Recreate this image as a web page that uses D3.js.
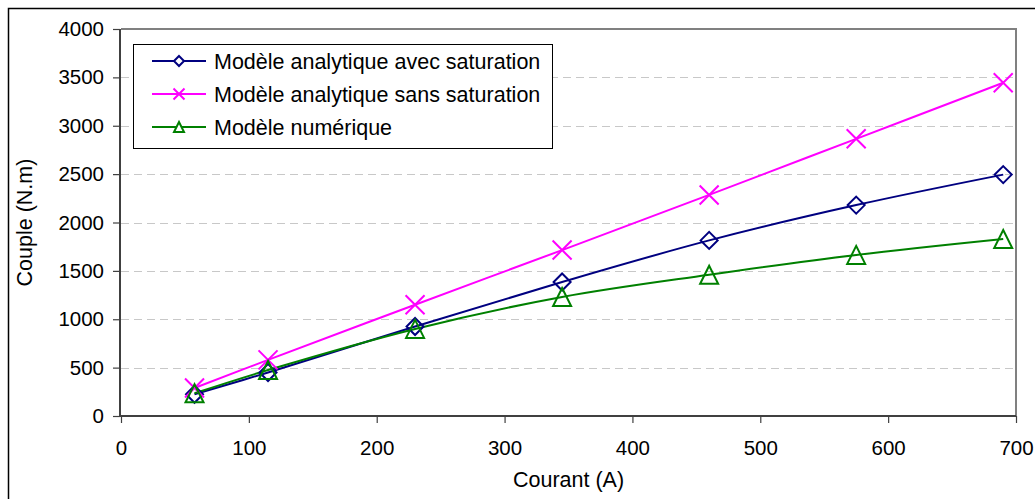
<!DOCTYPE html>
<html>
<head>
<meta charset="utf-8">
<script src="https://cdn.jsdelivr.net/npm/d3@7"></script>
<style>
html,body{margin:0;padding:0;background:#fff;}
svg{display:block;font-family:"Liberation Sans",Arial,sans-serif;}
</style>
</head>
<body>
<svg id="chart" width="1035" height="499"></svg>
<script>
// Data
const courant = [57.5, 115, 230, 345, 460, 575, 690];
const avecSaturation = [225, 450, 925, 1385, 1815, 2180, 2495];
const sansSaturation = [290, 580, 1150, 1715, 2285, 2865, 3445];
const numerique = [235, 475, 900, 1230, 1460, 1665, 1830];
const seriesNames = ["Modèle analytique avec saturation", "Modèle analytique sans saturation", "Modèle numérique"];
const xTicks = [0, 100, 200, 300, 400, 500, 600, 700];
const yTicks = [0, 500, 1000, 1500, 2000, 2500, 3000, 3500, 4000];

const svg = d3.select("#chart");
const W = 1035, H = 499;

// outer frame
svg.append("rect").attr("x", 8.5).attr("y", 8.5).attr("width", W + 20).attr("height", H + 20)
  .attr("fill", "none").attr("stroke", "#000").attr("stroke-width", 1.5);

const x = d3.scaleLinear().domain([0, 700]).range([121, 1016]);
const y = d3.scaleLinear().domain([0, 4000]).range([416, 29]);

// gridlines
svg.append("g").selectAll("line").data(yTicks.filter(t => t > 0 && t < 4000)).join("line")
  .attr("x1", 121).attr("x2", 1016)
  .attr("y1", d => Math.round(y(d)) + 0.5).attr("y2", d => Math.round(y(d)) + 0.5)
  .attr("stroke", "#c8c8c8").attr("stroke-width", 1).attr("stroke-dasharray", "8,5");

// plot border top/right
svg.append("path")
  .attr("d", `M${x(0)},${y(4000)}H${x(700)}V${y(0)}`)
  .attr("fill", "none").attr("stroke", "#808080").attr("stroke-width", 2);

// axes
const fmt = d3.format("d");
const xAxis = d3.axisBottom(x).tickValues(xTicks).tickFormat(fmt).tickSize(7).tickPadding(10);
const yAxis = d3.axisLeft(y).tickValues(yTicks).tickFormat(fmt).tickSize(7).tickPadding(10);

const gx = svg.append("g").attr("transform", `translate(0,${y(0)})`).call(xAxis);
const gy = svg.append("g").attr("transform", `translate(${x(0) - 1},0)`).call(yAxis);
[gx, gy].forEach(g => {
  g.select(".domain").attr("stroke", "#404040").attr("stroke-width", 2);
  g.selectAll(".tick line").attr("stroke", "#404040").attr("stroke-width", 1.2);
  g.selectAll(".tick text").attr("fill", "#000").style("font-size", "20.5px")
    .style("font-family", "'Liberation Sans', Arial, sans-serif");
});
gx.select(".domain").attr("d", `M${x(0) - 1},0H${x(700)}`);
gy.select(".domain").attr("d", `M0,${y(0)}V${y(4000)}`);
gx.selectAll(".tick text").attr("dy", null).attr("y", 39);
gy.selectAll(".tick text").attr("x", -16);

// axis titles
svg.append("text").attr("x", (x(0) + x(700)) / 2).attr("y", 487)
  .attr("text-anchor", "middle").style("font-size", "21.5px").text("Courant (A)");
svg.append("text").attr("transform", `translate(32,${(y(0) + y(4000)) / 2}) rotate(-90)`)
  .attr("text-anchor", "middle").style("font-size", "21.5px").text("Couple (N.m)");

// markers
function diamond(s) { return `M0,${-s}L${s},0L0,${s}L${-s},0Z`; }
function cross(s) { return `M${-s},${-s}L${s},${s}M${-s},${s}L${s},${-s}`; }
function tri(s) { return `M0,${-s}L${s},${s}L${-s},${s}Z`; }

const series = [
  { name: seriesNames[0], values: avecSaturation, color: "#000080", marker: diamond, size: 8.5, lsize: 5 },
  { name: seriesNames[1], values: sansSaturation, color: "#FF00FF", marker: cross, size: 9.5, lsize: 5.5 },
  { name: seriesNames[2], values: numerique, color: "#008000", marker: tri, size: 9, lsize: 5 }
];

const line = d3.line().x(d => x(d[0])).y(d => y(d[1])).curve(d3.curveCatmullRom.alpha(0.5));

series.forEach(s => {
  const pts = courant.map((c, i) => [c, s.values[i]]);
  svg.append("path").datum(pts).attr("d", line)
    .attr("fill", "none").attr("stroke", s.color).attr("stroke-width", 2);
});
series.forEach(s => {
  const pts = courant.map((c, i) => [c, s.values[i]]);
  svg.append("g").selectAll("path").data(pts).join("path")
    .attr("transform", d => `translate(${x(d[0])},${y(d[1])})`)
    .attr("d", s.marker(s.size))
    .attr("fill", "none").attr("stroke", s.color).attr("stroke-width", 2);
});

// legend
const lg = svg.append("g");
lg.append("rect").attr("x", 133.5).attr("y", 44.5).attr("width", 419).attr("height", 104)
  .attr("fill", "#fff").attr("stroke", "#000").attr("stroke-width", 1);
series.forEach((s, i) => {
  const cy = 61 + i * 33;
  lg.append("line").attr("x1", 152).attr("x2", 206).attr("y1", cy).attr("y2", cy)
    .attr("stroke", s.color).attr("stroke-width", 2);
  lg.append("path").attr("transform", `translate(179,${cy})`).attr("d", s.marker(s.lsize))
    .attr("fill", "#fff").attr("stroke", s.color).attr("stroke-width", 2);
  lg.append("text").attr("x", 214).attr("y", cy).attr("dy", "0.35em")
    .style("font-size", "21.5px").text(s.name);
});
</script>
</body>
</html>
